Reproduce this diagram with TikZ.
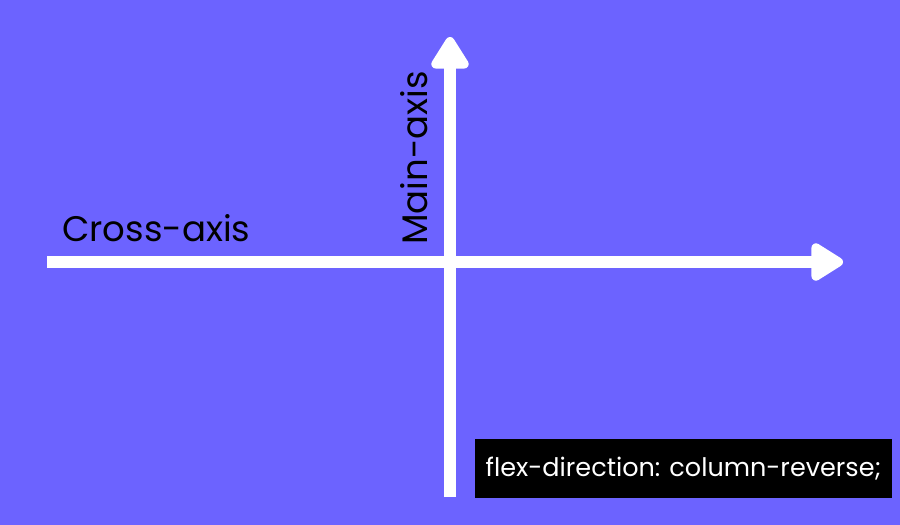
\documentclass[tikz,border=0pt]{standalone}
\usepackage{fontspec}
\setmainfont{Poppins}
\usetikzlibrary{arrows.meta}
\definecolor{bg}{HTML}{6C63FF}
\begin{document}
\begin{tikzpicture}[x=1pt,y=-1pt,
  axis/.style={draw=white,line width=12pt,-{Triangle[length=36pt,width=42pt,round]}},
  lbl/.style={inner sep=0pt,font=\fontsize{35.5}{40}\selectfont,text=black},
  codebox/.style={fill=black,text=white,inner sep=0pt,minimum width=417pt,minimum height=59pt,font=\fontsize{25.5}{28}\selectfont}]
\fill[bg] (0,0) rectangle (900,525);
\useasboundingbox (0,0) rectangle (900,525);
\coordinate (hs) at (47,262);
\coordinate (he) at (842,262);
\coordinate (vs) at (450,497);
\coordinate (ve) at (450,37);
\draw[axis,shorten >=-1pt] (hs) -- (he);
\draw[axis] (vs) -- (ve);
\node[lbl,anchor=base west] (cross) at (62,241) {Cross-axis};
\node[lbl,anchor=base west,rotate=90] (main) at (427,245) {Main-axis};
\node[codebox] (code) at (683.5,468.5) {flex-direction: column-reverse;};
\end{tikzpicture}
\end{document}
